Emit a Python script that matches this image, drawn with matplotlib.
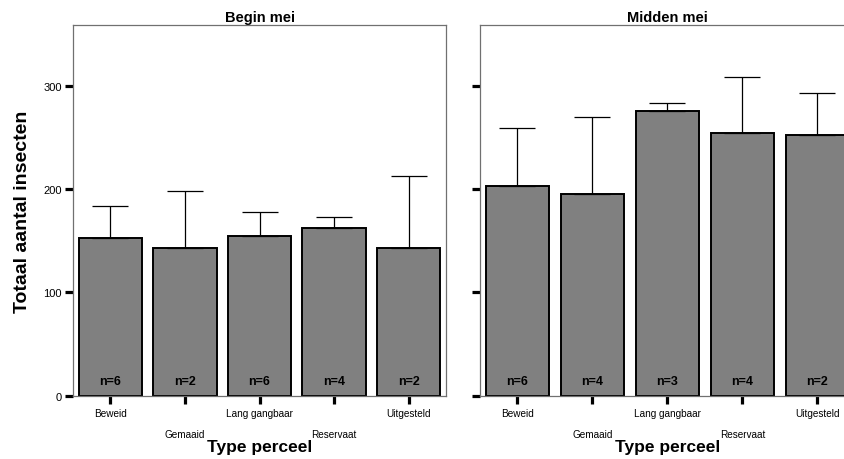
import matplotlib.pyplot as plt
import numpy as np

plt.rcParams['font.family'] = ['Liberation Sans', 'DejaVu Sans']

categorieen = ['Beweid', 'Gemaaid', 'Lang gangbaar', 'Reservaat', 'Uitgesteld']

# Begin mei
gem_begin = [153, 143, 155, 162, 143]
top_begin = [184, 198.5, 177.5, 172.5, 213]
n_begin = [6, 2, 6, 4, 2]

# Midden mei
gem_midden = [203, 195, 275, 254, 252.5]
top_midden = [259, 270, 283, 308, 293]
n_midden = [6, 4, 3, 4, 2]

titels = ['Begin mei', 'Midden mei']
y_ticks = [0, 100, 200, 300]

fig = plt.figure(figsize=(8.44, 4.60), dpi=100)
ax1 = fig.add_axes([0.0865, 0.137, 0.442, 0.8065])
ax2 = fig.add_axes([0.5687, 0.137, 0.4443, 0.8065])

x = np.arange(len(categorieen))

for ax, gem, top, n, titel in [(ax1, gem_begin, top_begin, n_begin, titels[0]),
                               (ax2, gem_midden, top_midden, n_midden, titels[1])]:
    gem = np.array(gem)
    top = np.array(top)
    ax.bar(x, gem, width=0.85, color='#808080', edgecolor='black', linewidth=1.4, zorder=2)
    ax.errorbar(x, gem, yerr=[np.zeros_like(gem), top - gem], fmt='none',
                ecolor='black', elinewidth=0.9, capsize=13, capthick=0.9, zorder=3)
    for xi, ni in zip(x, n):
        ax.text(xi, 14.5, f'n={ni}', ha='center', va='center',
                fontsize=9, fontweight='bold', zorder=4)

    ax.set_xlim(-0.5, 4.5)
    ax.set_ylim(0, 358.5)
    ax.set_title(titel, fontsize=10.5, fontweight='bold', pad=3)

    for sp in ax.spines.values():
        sp.set_color('#707070')
        sp.set_linewidth(0.9)

    ax.set_yticks(y_ticks)
    ax.tick_params(axis='y', length=6, width=2.3, pad=2, labelsize=8)
    ax.set_xticks(x)
    labels = [c if i % 2 == 0 else '\n' + c for i, c in enumerate(categorieen)]
    ax.set_xticklabels(labels, fontsize=7.2, linespacing=2.3)
    ax.tick_params(axis='x', length=6, width=2.3, pad=3)
    ax.set_xlabel('Type perceel', fontsize=12.5, fontweight='bold', labelpad=0)

ax2.set_yticklabels([])
ax1.set_ylabel('Totaal aantal insecten', fontsize=14, fontweight='bold', labelpad=9)

fig.savefig('out.png', dpi=100)
